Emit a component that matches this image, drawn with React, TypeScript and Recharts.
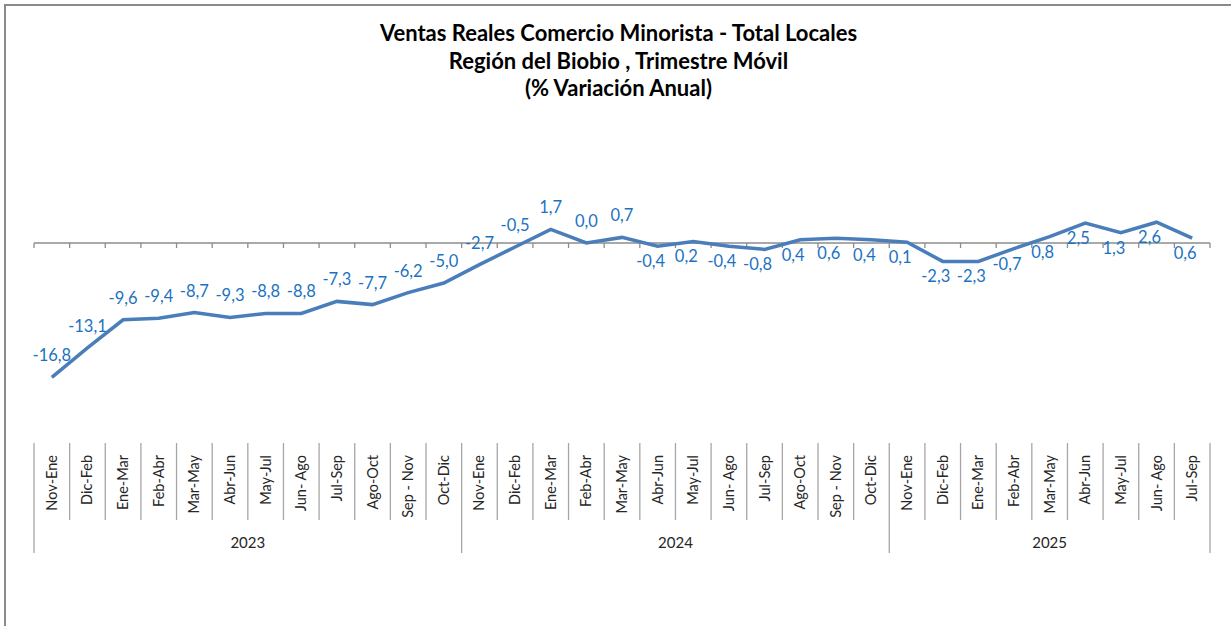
import React from 'react';
import { LineChart, Line, XAxis, YAxis, ReferenceLine } from 'recharts';

const categories = [
  'Nov-Ene', 'Dic-Feb', 'Ene-Mar', 'Feb-Abr', 'Mar-May', 'Abr-Jun', 'May-Jul', 'Jun- Ago', 'Jul-Sep', 'Ago-Oct', 'Sep - Nov', 'Oct-Dic',
  'Nov-Ene', 'Dic-Feb', 'Ene-Mar', 'Feb-Abr', 'Mar-May', 'Abr-Jun', 'May-Jul', 'Jun- Ago', 'Jul-Sep', 'Ago-Oct', 'Sep - Nov', 'Oct-Dic',
  'Nov-Ene', 'Dic-Feb', 'Ene-Mar', 'Feb-Abr', 'Mar-May', 'Abr-Jun', 'May-Jul', 'Jun- Ago', 'Jul-Sep',
];
const years = ['2023', '2024', '2025'];
const yearSizes = [12, 12, 9];
const values = [
  -16.8, -13.1, -9.6, -9.4, -8.7, -9.3, -8.8, -8.8, -7.3, -7.7, -6.2, -5.0,
  -2.7, -0.5, 1.7, 0.0, 0.7, -0.4, 0.2, -0.4, -0.8, 0.4, 0.6, 0.4,
  0.1, -2.3, -2.3, -0.7, 0.8, 2.5, 1.3, 2.6, 0.6,
];
const titleLines = [
  'Ventas Reales Comercio Minorista - Total Locales',
  'Región del Biobio , Trimestre Móvil',
  '(% Variación Anual)',
];

const data = values.map((v, i) => ({ idx: i, cat: categories[i], value: v }));

const W = 1231;
const H = 626;
const MARGIN = { top: 203, right: 21, bottom: 63, left: 34 };
const N = categories.length;
const BAND = (W - MARGIN.left - MARGIN.right) / N;
const FONT = 'Lato, "Open Sans", sans-serif';
const LABEL_BELOW_FROM = 17;

const groupStarts: number[] = [];
{
  let acc = 0;
  yearSizes.forEach((s) => { groupStarts.push(acc); acc += s; });
}

const fmt = (v: number) => v.toFixed(1).replace('.', ',');

const CategoryTick = (props: any) => {
  const { x, y, index } = props;
  const i = typeof index === 'number' ? index : Number(props.payload?.value);
  const gi = groupStarts.indexOf(i);
  const isStart = gi >= 0;
  const isLast = i === N - 1;
  const left = x - BAND / 2;
  return (
    <g>
      <line x1={left} x2={left} y1={y} y2={y + (isStart ? 110 : 77)} stroke="#a6a6a6" strokeWidth={1.3} />
      {isLast && (
        <line x1={x + BAND / 2} x2={x + BAND / 2} y1={y} y2={y + 110} stroke="#a6a6a6" strokeWidth={1.3} />
      )}
      <text
        transform={`translate(${x + 5},${y + 12}) rotate(-90)`}
        textAnchor="end"
        fontFamily={FONT}
        fontSize={14.5}
        fill="#262626"
      >
        {categories[i]}
      </text>
      {isStart && (
        <text
          x={left + (yearSizes[gi] * BAND) / 2}
          y={y + 105}
          textAnchor="middle"
          fontFamily={FONT}
          fontSize={15}
          fill="#262626"
        >
          {years[gi]}
        </text>
      )}
    </g>
  );
};

const ZeroAxis = (p: any) => {
  const { x1, x2, y1 } = p;
  const span = x2 - x1;
  const padded = Math.abs(span - (N - 1) * BAND) < Math.abs(span - N * BAND);
  const start = padded ? x1 - BAND / 2 : x1;
  const end = start + N * BAND;
  const ticks = [];
  for (let k = 0; k <= N; k++) {
    const tx = start + k * BAND;
    ticks.push(<line key={k} x1={tx} x2={tx} y1={y1} y2={y1 + 5} stroke="#8c8c8c" strokeWidth={1.3} />);
  }
  return (
    <g>
      <line x1={start} x2={end} y1={y1} y2={y1} stroke="#8c8c8c" strokeWidth={1.5} />
      {ticks}
    </g>
  );
};

const ValueLabel = (props: any) => {
  const { x, y, value, index } = props;
  if (x == null || y == null) return null;
  const below = index >= LABEL_BELOW_FROM;
  return (
    <text
      x={below ? x - 7 : x}
      y={below ? y + 21 : y - 16}
      textAnchor="middle"
      fontFamily={FONT}
      fontSize={16.5}
      fill="#1C72C2"
    >
      {fmt(Number(value))}
    </text>
  );
};

export default function App() {
  return (
    <div style={{ position: 'absolute', left: 0, top: 0, width: W, height: H, overflow: 'hidden', background: '#fff' }}>
      <div
        style={{
          position: 'absolute', left: 4, top: 4, width: W + 50, height: H + 50,
          border: '2px solid #8a8a8a', boxSizing: 'border-box',
        }}
      />
      <div
        style={{
          position: 'absolute', left: 0, top: 19, width: 1237, textAlign: 'center',
          fontFamily: FONT, fontWeight: 700, fontSize: 22, lineHeight: '27.5px', color: '#000',
        }}
      >
        {titleLines.map((t) => (<div key={t}>{t}</div>))}
      </div>
      <div style={{ position: 'absolute', left: 0, top: 0 }}>
        <LineChart width={W} height={H} data={data} margin={MARGIN}>
          <XAxis
            dataKey="idx"
            type="category"
            interval={0}
            tick={<CategoryTick />}
            tickLine={false}
            axisLine={false}
            tickSize={0}
            tickMargin={0}
            height={120}
            padding={{ left: BAND / 2, right: BAND / 2 }}
          />
          <YAxis hide domain={[-25, 5]} />
          <ReferenceLine y={0} shape={<ZeroAxis />} ifOverflow="extendDomain" />
          <Line
            type="linear"
            dataKey="value"
            stroke="#4A7EBB"
            strokeWidth={3.5}
            dot={false}
            isAnimationActive={false}
            label={<ValueLabel />}
          />
        </LineChart>
      </div>
    </div>
  );
}
